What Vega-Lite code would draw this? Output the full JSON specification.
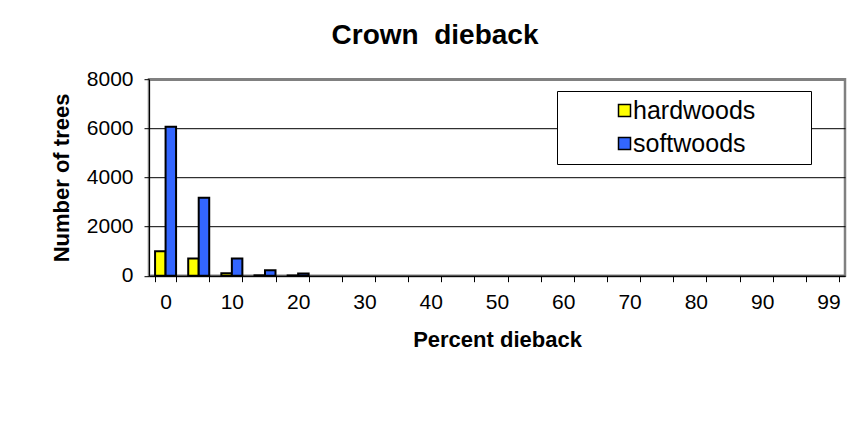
{
  "$schema": "https://vega.github.io/schema/vega-lite/v6.json",
  "width": 696,
  "height": 196.5,
  "autosize": {"type": "none"},
  "padding": {"left": 149, "top": 79.2, "right": 18, "bottom": 172.3},
  "background": "white",
  "title": {
    "text": "Crown \u00a0dieback",
    "fontSize": 28,
    "fontWeight": "bold",
    "font": "Liberation Sans",
    "color": "black",
    "dx": -62,
    "offset": 18
  },
  "data": {
    "values": [
      {"pct": 0, "type": "hardwoods", "count": 1000},
      {"pct": 0, "type": "softwoods", "count": 6060},
      {"pct": 5, "type": "hardwoods", "count": 700},
      {"pct": 5, "type": "softwoods", "count": 3170},
      {"pct": 10, "type": "hardwoods", "count": 100},
      {"pct": 10, "type": "softwoods", "count": 700},
      {"pct": 15, "type": "hardwoods", "count": 15},
      {"pct": 15, "type": "softwoods", "count": 220},
      {"pct": 20, "type": "hardwoods", "count": 10},
      {"pct": 20, "type": "softwoods", "count": 90},
      {"pct": 25, "type": "hardwoods", "count": 0},
      {"pct": 25, "type": "softwoods", "count": 0},
      {"pct": 30, "type": "hardwoods", "count": 0},
      {"pct": 30, "type": "softwoods", "count": 0},
      {"pct": 35, "type": "hardwoods", "count": 0},
      {"pct": 35, "type": "softwoods", "count": 0},
      {"pct": 40, "type": "hardwoods", "count": 0},
      {"pct": 40, "type": "softwoods", "count": 0},
      {"pct": 45, "type": "hardwoods", "count": 0},
      {"pct": 45, "type": "softwoods", "count": 0},
      {"pct": 50, "type": "hardwoods", "count": 0},
      {"pct": 50, "type": "softwoods", "count": 0},
      {"pct": 55, "type": "hardwoods", "count": 0},
      {"pct": 55, "type": "softwoods", "count": 0},
      {"pct": 60, "type": "hardwoods", "count": 0},
      {"pct": 60, "type": "softwoods", "count": 0},
      {"pct": 65, "type": "hardwoods", "count": 0},
      {"pct": 65, "type": "softwoods", "count": 0},
      {"pct": 70, "type": "hardwoods", "count": 0},
      {"pct": 70, "type": "softwoods", "count": 0},
      {"pct": 75, "type": "hardwoods", "count": 0},
      {"pct": 75, "type": "softwoods", "count": 0},
      {"pct": 80, "type": "hardwoods", "count": 0},
      {"pct": 80, "type": "softwoods", "count": 0},
      {"pct": 85, "type": "hardwoods", "count": 0},
      {"pct": 85, "type": "softwoods", "count": 0},
      {"pct": 90, "type": "hardwoods", "count": 0},
      {"pct": 90, "type": "softwoods", "count": 0},
      {"pct": 95, "type": "hardwoods", "count": 0},
      {"pct": 95, "type": "softwoods", "count": 0},
      {"pct": 99, "type": "hardwoods", "count": 0},
      {"pct": 99, "type": "softwoods", "count": 0}
    ]
  },
  "mark": {"type": "bar", "stroke": "black", "strokeWidth": 2},
  "encoding": {
    "x": {
      "field": "pct",
      "type": "ordinal",
      "sort": "ascending",
      "scale": {"paddingInner": 0.366, "paddingOuter": 0.183},
      "axis": {
        "title": "Percent dieback",
        "labelAngle": 0,
        "tickBand": "extent",
        "labelExpr": "(datum.value % 10 == 0 || datum.value == 99) ? datum.label : ''",
        "labelOverlap": false,
        "labelFontSize": 21,
        "labelPadding": 10,
        "tickSize": 6,
        "titlePadding": 17,
        "titleFontSize": 22,
        "grid": false
      }
    },
    "xOffset": {"field": "type", "type": "nominal", "scale": {"paddingInner": 0, "paddingOuter": 0}},
    "y": {
      "field": "count",
      "type": "quantitative",
      "scale": {"domain": [0, 8000], "nice": false},
      "axis": {
        "title": "Number of trees",
        "values": [0, 2000, 4000, 6000, 8000],
        "format": "d",
        "labelFontSize": 21,
        "labelPadding": 11,
        "tickSize": 5,
        "titlePadding": 13,
        "titleFontSize": 22,
        "grid": true,
        "gridColor": {"condition": {"test": "datum.value == 8000", "value": "#808080"}, "value": "black"},
        "gridWidth": {"condition": {"test": "datum.value == 8000", "value": 2.5}, "value": 1}
      }
    },
    "strokeOpacity": {"condition": {"test": "datum.count == 0", "value": 0}, "value": 1},
    "color": {
      "field": "type",
      "type": "nominal",
      "scale": {"domain": ["hardwoods", "softwoods"], "range": ["#FFFF00", "#3366FF"]},
      "legend": {
        "title": null,
        "orient": "none",
        "legendX": 408,
        "legendY": 11.8,
        "direction": "vertical",
        "fillColor": "white",
        "strokeColor": "black",
        "padding": 7,
        "symbolType": "square",
        "symbolSize": 144,
        "symbolStrokeColor": "black",
        "symbolStrokeWidth": 1.5,
        "symbolOpacity": 1,
        "symbolOffset": 48,
        "labelOffset": -4,
        "labelFontSize": 25,
        "labelColor": "black",
        "labelLimit": 0,
        "rowPadding": 7,
        "labelExpr": "datum.label + '\u00a0\u00a0\u00a0\u00a0\u00a0\u00a0\u00a0\u200b'"
      }
    }
  },
  "config": {
    "font": "Liberation Sans",
    "view": {"stroke": "#808080", "strokeWidth": 2.5},
    "axis": {
      "domainColor": "black",
      "tickColor": "black",
      "labelColor": "black",
      "titleColor": "black",
      "titleFontWeight": "bold",
      "labelFont": "Liberation Sans",
      "titleFont": "Liberation Sans",
      "domainWidth": 1,
      "tickWidth": 1
    },
    "legend": {"labelFont": "Liberation Sans"}
  }
}
